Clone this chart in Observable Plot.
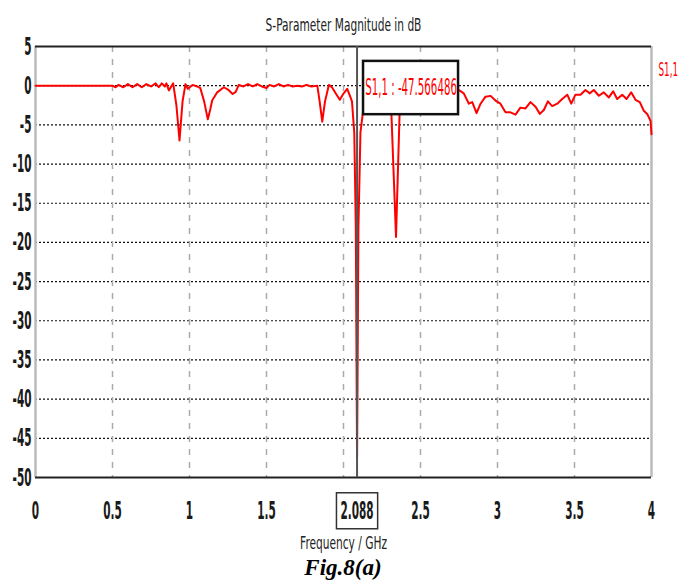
<!DOCTYPE html>
<html>
<head>
<meta charset="utf-8">
<script src="https://cdn.jsdelivr.net/npm/d3@7"></script>
<script src="https://cdn.jsdelivr.net/npm/@observablehq/plot@0.6"></script>
<style>
  html, body { margin: 0; padding: 0; background: #fff; }
  #wrap { width: 681px; position: relative; }
  #caption { font-family: "Liberation Serif", "Times New Roman", serif; font-weight: bold; font-style: italic; font-size: 23px; text-align: center; width: 686px; margin-top: 0px; }
</style>
</head>
<body>
<div id="wrap"></div>
<script>
// ---- data ----
const freqGHz = [0, 0.5, 0.52, 0.54, 0.57, 0.6, 0.63, 0.66, 0.69, 0.72, 0.75, 0.78, 0.8, 0.82, 0.84, 0.85,
  0.866, 0.894, 0.915, 0.935, 0.955, 0.974, 0.989, 1.02, 1.05, 1.07, 1.095, 1.119, 1.135, 1.147, 1.18, 1.223, 1.25, 1.28, 1.3, 1.32,
  1.35, 1.38, 1.41, 1.44, 1.47, 1.5, 1.52, 1.55, 1.58, 1.61, 1.64, 1.67, 1.7, 1.73, 1.76, 1.79, 1.83, 1.845, 1.862, 1.88, 1.905, 1.925,
  1.95, 1.976, 2.0, 2.024, 2.04, 2.055, 2.07, 2.08, 2.088, 2.097, 2.11, 2.13, 2.15, 2.2, 2.25, 2.31, 2.341, 2.365, 2.4, 2.45, 2.55, 2.65, 2.72,
  2.755, 2.781, 2.814, 2.836, 2.864, 2.89, 2.922, 2.955, 2.987, 3.019, 3.052, 3.084, 3.117, 3.149, 3.182, 3.214, 3.247, 3.275, 3.301,
  3.327, 3.355, 3.388, 3.42, 3.453, 3.479, 3.506, 3.539, 3.571, 3.6, 3.625, 3.658, 3.69, 3.723, 3.751, 3.777, 3.81, 3.838, 3.868, 3.896,
  3.924, 3.95, 3.972, 3.994, 4.0];
const s11dB = [0, 0, -0.2, 0.1, -0.2, 0.2, -0.2, 0.2, -0.2, 0.2, -0.1, 0.3, -0.2, 0.3, -0.1, 0.3,
  -0.6, 0.3, -2.5, -7.0, -2.0, 0.2, -0.4, 0.1, -0.1, -0.3, -2.0, -4.3, -3.0, -1.9, -0.85, -0.2, -0.5, -1.06, -0.8, 0.1,
  -0.1, 0.2, -0.1, 0.2, -0.1, -0.3, 0.1, -0.1, 0.2, -0.1, 0.1, -0.1, 0, -0.1, 0.1, -0.1, 0.0, -2.0, -4.6, -2.0, 0.1, -0.2,
  -1.0, -1.8, -1.0, -0.4, -1.2, -2.0, -6.0, -18, -47.566486, -18, -6.0, -2.8, -1.0, -0.5, -1.0, -3.0, -19.3, -3.0, -1.5, -0.5, -1.0, -0.5, -0.3,
  -0.64, -0.98, -2.3, -2.1, -3.5, -2.3, -1.4, -1.3, -1.9, -2.3, -3.4, -3.4, -3.7, -2.8, -2.9, -2.1, -2.7, -3.6, -3.1,
  -2.0, -2.6, -2.3, -1.7, -1.15, -2.3, -1.15, -1.15, -0.55, -0.98, -0.55, -1.28, -0.85, -1.5, -0.72, -1.7, -1.15, -1.7, -0.85, -1.8,
  -2.1, -3.2, -3.6, -4.5, -6.2];

const xTickValues = [0, 0.5, 1, 1.5, 2.088, 2.5, 3, 3.5, 4];
const yTickValues = [5, 0, -5, -10, -15, -20, -25, -30, -35, -40, -45, -50];
const xGridValues = [0.5, 1, 1.5, 2, 2.5, 3, 3.5];
const yGridValues = [0, -5, -10, -15, -20, -25, -30, -35, -40, -45];
const markerFreq = [2.088];
const markerLabel = ["S1,1 : -47.566486"];
const markerBox = [{x1: 2.13, x2: 2.747, y1: 3.1, y2: -3.7}];
const seriesName = ["S1,1"];
const titleText = "S-Parameter Magnitude in dB";
const xLabelText = "Frequency / GHz";

const data = freqGHz.map((f, i) => ({f, v: s11dB[i]}));
const font = "DejaVu Sans, sans-serif";

const chart = Plot.plot({
  width: 681,
  height: 555,
  marginLeft: 35,
  marginRight: 30,
  marginTop: 46,
  marginBottom: 78,
  style: {fontFamily: font, background: "#fff", overflow: "visible"},
  x: {domain: [0, 4]},
  y: {domain: [-50, 5]},
  marks: [
    Plot.ruleY(yGridValues, {stroke: "#111", strokeWidth: 1.2, strokeDasharray: "2,2"}),
    Plot.ruleX(xGridValues, {stroke: "#aaa", strokeWidth: 1.5, strokeDasharray: "6,7"}),
    Plot.ruleX([0, 4], {stroke: "#bbb", strokeWidth: 2.5}),
    Plot.ruleY([5, -50], {stroke: "#222", strokeWidth: 2}),
    Plot.line(data, {x: "f", y: "v", stroke: "#ff0000", strokeWidth: 2, strokeLinejoin: "round"}),
    Plot.ruleX(markerFreq, {stroke: "#555", strokeWidth: 2}),
    Plot.rect(markerBox, {x1: "x1", x2: "x2", y1: "y1", y2: "y2", fill: "#fff", stroke: "#111", strokeWidth: 2.5}),
    Plot.text(markerLabel, {x: (d) => (markerBox[0].x1 + markerBox[0].x2) / 2, y: (d) => (markerBox[0].y1 + markerBox[0].y2) / 2,
      text: (d) => d, fill: "#ff0000", fontSize: 23, className: "mk"}),
    Plot.text(seriesName, {x: 4, y: 2.0, dx: 7, text: (d) => d, textAnchor: "start", fill: "#ff0000", fontSize: 20, className: "sn"}),
    Plot.text([titleText], {frameAnchor: "top", dy: -28, text: (d) => d, fill: "#222", fontSize: 18, className: "ttl"}),
    Plot.text([xLabelText], {frameAnchor: "bottom", dy: 71, text: (d) => d, fill: "#222", fontSize: 18, className: "ttl"}),
    Plot.axisX(xTickValues, {tickSize: 0, tickPadding: 24, tickFormat: (d) => String(d), fontSize: 25, fontWeight: "bold", fill: "#1a1a1a", className: "tk"}),
    Plot.axisY(yTickValues, {tickSize: 0, tickPadding: 4, tickFormat: (d) => String(d), fontSize: 25, fontWeight: "bold", fill: "#1a1a1a", className: "tk"})
  ]
});

document.getElementById("wrap").appendChild(chart);

// condensed look: scale glyphs horizontally about each text's anchor
function squeeze(cls, factor) {
  d3.select(chart).selectAll("g." + cls + " text").each(function() {
    const tr = this.getAttribute("transform") || "";
    const x = parseFloat(this.getAttribute("x") || "0");
    if (x) this.setAttribute("x", (x / factor).toFixed(2));
    this.setAttribute("transform", (tr + ` scale(${factor},1)`).trim());
  });
}
squeeze("tk", 0.42);
squeeze("ttl", 0.59);
squeeze("mk", 0.445);
squeeze("sn", 0.44);

// box around the marker tick label (drawn in the svg's own coordinates)
const svgRect = chart.getBoundingClientRect();
d3.select(chart).selectAll("g.tk text").each(function() {
  if (this.textContent === String(markerFreq[0])) {
    const r = this.getBoundingClientRect();
    let top = this;
    while (top.parentNode !== chart) top = top.parentNode;
    d3.select(chart).insert("rect", () => top)
      .attr("x", r.left - svgRect.left - 4).attr("y", r.top - svgRect.top - 3)
      .attr("width", r.width + 8).attr("height", r.height + 6)
      .attr("fill", "#fff").attr("stroke", "#333").attr("stroke-width", 1.5);
  }
});

const cap = document.createElement("div");
cap.id = "caption";
cap.textContent = "Fig.8(a)";
document.getElementById("wrap").appendChild(cap);
</script>
</body>
</html>
